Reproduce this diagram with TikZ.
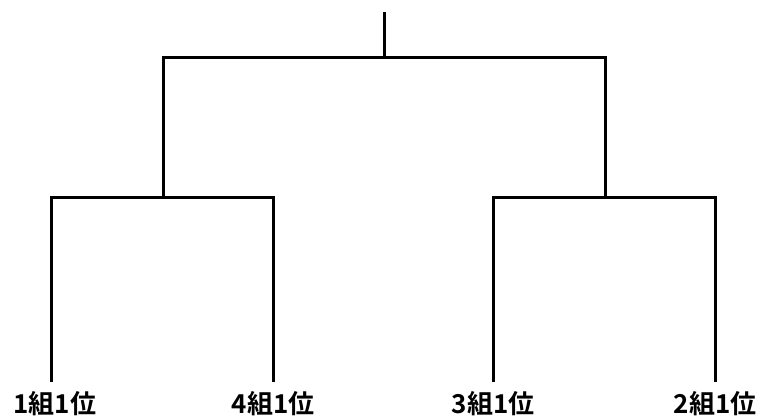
\documentclass[tikz,border=0pt]{standalone}
\usepackage{fontspec}
\newfontfamily\jpfont{Noto Sans CJK JP Bold}
\usepackage{tikz}
\usetikzlibrary{positioning}

\begin{document}
\begin{tikzpicture}[x=1pt, y=-1pt, line width=3pt,
    team/.style={font=\jpfont\fontsize{26}{26}\selectfont, inner sep=0pt}]
    \useasboundingbox (0,0) rectangle (766,417);
    % bottom ends of the bracket
    \coordinate (b1) at (51,382);
    \coordinate (b4) at (273,382);
    \coordinate (b3) at (493,382);
    \coordinate (b2) at (715,382);
    \coordinate (s1) at (163,197);
    \coordinate (s2) at (605,197);
    \coordinate (f) at (384,58);
    \coordinate (top) at (384,12);

    \node[team, below=8pt of b1, xshift=4pt] (t1) {1組1位};
    \node[team, below=8pt of b4] (t4) {4組1位};
    \node[team, below=8pt of b3] (t3) {3組1位};
    \node[team, below=8pt of b2] (t2) {2組1位};

    \draw (b1) |- (s1) -| (b4);
    \draw (b3) |- (s2) -| (b2);
    \draw (s1) |- (f) -| (s2);
    \draw (f) -- (top);
\end{tikzpicture}
\end{document}
